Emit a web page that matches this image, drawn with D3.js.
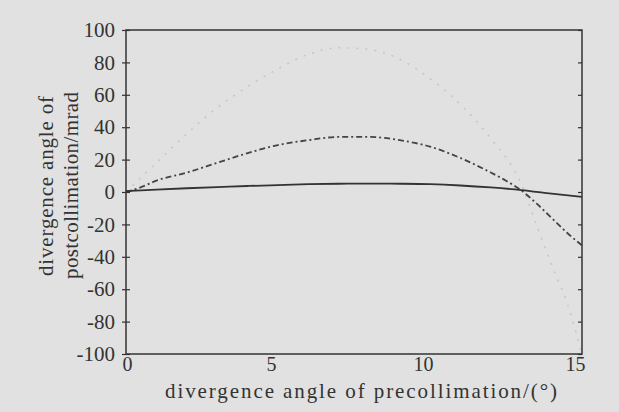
<!DOCTYPE html>
<html>
<head>
<meta charset="utf-8">
<script src="https://cdn.jsdelivr.net/npm/d3@7"></script>
<style>
  body { margin: 0; background: #e1e1e1; }
  svg { display: block; }
  text { font-family: "Liberation Serif", "DejaVu Serif", serif; fill: #333; }
</style>
</head>
<body>
<div id="canvas"></div>
<script>
// precollimation angle (deg) vs postcollimation divergence (mrad)
var solidX = [0, 1, 2, 3, 4, 5, 6, 7, 8, 9, 10, 11, 12, 13, 14, 15];
var solidY = [0.5, 1.5, 2.3, 3, 3.7, 4.3, 4.8, 5.1, 5.2, 5.1, 4.8, 4, 2.8, 1.2, -1, -3];

var dashX = [0, 0.5, 1, 2, 3, 4, 5, 6, 7, 8, 9, 10, 11, 12, 12.5, 13, 13.5, 14, 14.5, 15];
var dashY = [0, 3, 7, 12, 18, 24, 29, 32, 34, 34, 32, 28, 21, 12, 7, 1, -7, -16, -25, -33];

var dotX = [0, 1, 2, 3, 4, 5, 6, 7, 8, 9, 10, 11, 12, 13, 13.5, 14, 14.5, 15];
var dotY = [0, 18, 36, 52, 65, 76, 85, 89, 88, 82, 70, 54, 33, 5, -20, -45, -68, -100];

var xTicks = [0, 5, 10, 15];
var yTicks = [-100, -80, -60, -40, -20, 0, 20, 40, 60, 80, 100];

var m = {t: 30, r: 37, b: 58, l: 126},
    W = 619, H = 412,
    w = W - m.l - m.r,
    h = H - m.t - m.b;

var svg = d3.select('#canvas').append('svg')
    .attr('width', W)
    .attr('height', H);

var plot = svg.append('g')
    .attr('transform', 'translate(' + m.l + ',' + m.t + ')');

var x = d3.scaleLinear().domain([0, 15]).range([0, w]);
var y = d3.scaleLinear().domain([-100, 100]).range([h, 0]);

var fmt = function(d) { return String(d); };  // plain hyphen minus

// inner ticks, left and right
plot.append('g').attr('class', 'ax')
    .call(d3.axisLeft(y).tickValues(yTicks).tickSize(-4).tickFormat(''));
plot.append('g').attr('class', 'ax')
    .attr('transform', 'translate(' + w + ',0)')
    .call(d3.axisRight(y).tickValues(yTicks).tickSize(-4).tickFormat(''));

// labels
plot.append('g').attr('class', 'ax lab')
    .call(d3.axisLeft(y).tickValues(yTicks).tickSize(4).tickPadding(7).tickFormat(fmt));
plot.append('g').attr('class', 'ax lab xl')
    .attr('transform', 'translate(0,' + h + ')')
    .call(d3.axisBottom(x).tickValues(xTicks).tickSize(0).tickPadding(3).tickFormat(fmt));

plot.selectAll('.ax .domain').remove();
plot.selectAll('.xl line').remove();
plot.selectAll('.ax line').attr('stroke', '#333').attr('stroke-width', 1.2);
plot.selectAll('.lab text')
    .style('font-family', '"Liberation Serif", serif')
    .style('font-size', '21px')
    .attr('fill', '#333');
plot.selectAll('.xl text')
    .style('font-size', '20px')
    .attr('dx', function(d) { return d === 0 ? 1 : -7; });

var line = d3.line()
    .x(function(d) { return x(d[0]); })
    .y(function(d) { return y(d[1]); })
    .curve(d3.curveMonotoneX);

plot.append('path')
    .datum(d3.zip(dotX, dotY))
    .attr('d', line)
    .attr('fill', 'none')
    .attr('stroke', '#777')
    .attr('stroke-opacity', 0.25)
    .attr('stroke-width', 1.5)
    .attr('stroke-dasharray', '2,7');

plot.append('path')
    .datum(d3.zip(dashX, dashY))
    .attr('d', line)
    .attr('fill', 'none')
    .attr('stroke', '#444')
    .attr('stroke-width', 1.8)
    .attr('stroke-dasharray', '6,3,2,3');

plot.append('path')
    .datum(d3.zip(solidX, solidY))
    .attr('d', line)
    .attr('fill', 'none')
    .attr('stroke', '#333')
    .attr('stroke-width', 1.8);

// frame
plot.append('rect')
    .attr('width', w).attr('height', h)
    .attr('fill', 'none')
    .attr('stroke', '#333')
    .attr('stroke-width', 1.5);

svg.append('text')
    .attr('x', 165).attr('y', 398)
    .attr('textLength', 392)
    .attr('lengthAdjust', 'spacing')
    .style('font-size', '21px')
    .text('divergence angle of  precollimation/(°)');

var yl = svg.append('g')
    .attr('transform', 'translate(0,186) rotate(-90)');
yl.append('text')
    .attr('x', -90).attr('y', 53)
    .attr('textLength', 180)
    .attr('lengthAdjust', 'spacing')
    .style('font-size', '21px')
    .text('divergence angle of');
yl.append('text')
    .attr('x', -93).attr('y', 78)
    .attr('textLength', 187)
    .attr('lengthAdjust', 'spacing')
    .style('font-size', '21px')
    .text('postcollimation/mrad');
</script>
</body>
</html>
